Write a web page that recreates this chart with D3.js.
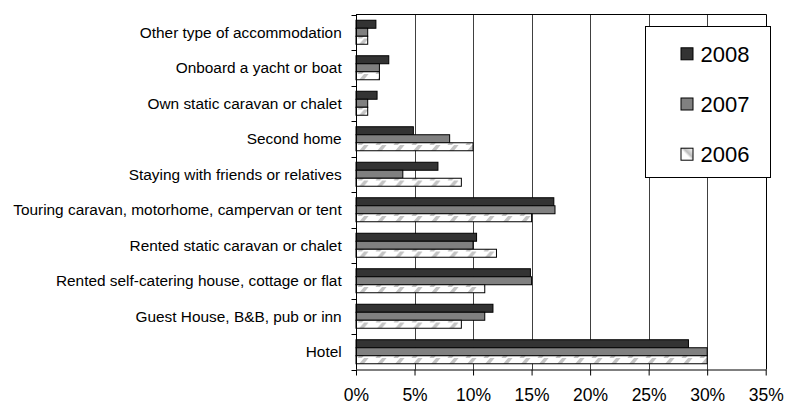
<!DOCTYPE html>
<html>
<head>
<meta charset="utf-8">
<script src="https://cdn.jsdelivr.net/npm/d3@7"></script>
<style>
  body { margin: 0; background: #fff; }
  svg { display: block; font-family: "Liberation Sans", Arial, sans-serif; }
</style>
</head>
<body>
<div id="chart"></div>
<script>
// categories top to bottom
const categories = [
  "Other type of accommodation",
  "Onboard a yacht or boat",
  "Own static caravan or chalet",
  "Second home",
  "Staying with friends or relatives",
  "Touring caravan, motorhome, campervan or tent",
  "Rented static caravan or chalet",
  "Rented self-catering house, cottage or flat",
  "Guest House, B&B, pub or inn",
  "Hotel",
];
const years = ["2008", "2007", "2006"];
const values2008 = [1.7, 2.8, 1.8, 4.9, 7.0, 16.9, 10.3, 14.9, 11.7, 28.4];
const values2007 = [1.0, 2.0, 1.0, 8.0, 4.0, 17.0, 10.0, 15.0, 11.0, 30.0];
const values2006 = [1.0, 2.0, 1.0, 10.0, 9.0, 15.0, 12.0, 11.0, 9.0, 30.0];
const xTicks = [0, 5, 10, 15, 20, 25, 30, 35];

const seriesByYear = { "2008": values2008, "2007": values2007, "2006": values2006 };
const fills = { "2008": "#333333", "2007": "#808080", "2006": "url(#hatch)" };

const W = 787, H = 405;
const plot = { left: 356, right: 765.7, top: 14.5, bottom: 369.5 };

const svg = d3.select("#chart").append("svg")
  .attr("width", W).attr("height", H);

const defs = svg.append("defs");

// diagonal hatch for 2006
const pat = defs.append("pattern")
  .attr("id", "hatch")
  .attr("patternUnits", "userSpaceOnUse")
  .attr("width", 18).attr("height", 8);
pat.append("rect").attr("width", 18).attr("height", 8).attr("fill", "#fff");
pat.append("path")
  .attr("d", "M-2,10 L8,-2 M16,10 L26,-2")
  .attr("stroke", "#c4c4c4")
  .attr("stroke-width", 3.5);

// legend swatch for 2006 is a soft diagonal band
const grad = defs.append("linearGradient")
  .attr("id", "legendGrad")
  .attr("x1", "0").attr("y1", "1").attr("x2", "1").attr("y2", "0");
grad.append("stop").attr("offset", "0").attr("stop-color", "#fff");
grad.append("stop").attr("offset", "0.45").attr("stop-color", "#fff");
grad.append("stop").attr("offset", "0.6").attr("stop-color", "#bdbdbd");
grad.append("stop").attr("offset", "1").attr("stop-color", "#fff");

const x = d3.scaleLinear().domain([0, 35]).range([plot.left, plot.right]);
const y = d3.scaleBand().domain(categories).range([plot.top, plot.bottom]).padding(0);
const yInner = d3.scaleBand().domain(years)
  .range([5.75, y.bandwidth() - 5.75]).padding(0);

// gridlines
svg.append("g")
  .selectAll("line")
  .data(xTicks.filter((d) => d > 0 && d < 35))
  .join("line")
  .attr("x1", (d) => Math.round(x(d)) + 0.5)
  .attr("x2", (d) => Math.round(x(d)) + 0.5)
  .attr("y1", plot.top).attr("y2", plot.bottom)
  .attr("stroke", "#404040")
  .attr("stroke-width", 1);

// plot border (top + right)
svg.append("path")
  .attr("d", `M${plot.left},${plot.top} H${Math.round(plot.right) + 0.5} V${plot.bottom}`)
  .attr("fill", "none")
  .attr("stroke", "#000");

// bars
const groups = svg.append("g")
  .selectAll("g")
  .data(categories)
  .join("g")
  .attr("transform", (d) => `translate(0,${y(d)})`);

groups.selectAll("rect")
  .data((c, i) => years.map((yr) => ({ year: yr, value: seriesByYear[yr][i] })))
  .join("rect")
  .attr("x", plot.left)
  .attr("y", (d) => yInner(d.year))
  .attr("width", (d) => x(d.value) - plot.left)
  .attr("height", yInner.bandwidth())
  .attr("fill", (d) => fills[d.year])
  .attr("stroke", "#000")
  .attr("stroke-width", 1);

// category labels
svg.append("g")
  .selectAll("text")
  .data(categories)
  .join("text")
  .attr("x", 341.7)
  .attr("y", (d) => y(d) + y.bandwidth() / 2)
  .attr("dy", "0.35em")
  .attr("text-anchor", "end")
  .attr("font-size", "15.4px")
  .attr("fill", "#000")
  .text((d) => d);

// y axis line with boundary ticks
const bounds = categories.map((c) => y(c)).concat([plot.bottom]);
svg.append("line")
  .attr("x1", plot.left + 0.5).attr("x2", plot.left + 0.5)
  .attr("y1", plot.top).attr("y2", plot.bottom)
  .attr("stroke", "#000");
svg.append("g")
  .selectAll("line")
  .data(bounds)
  .join("line")
  .attr("x1", plot.left - 4.5).attr("x2", plot.left)
  .attr("y1", (d) => Math.round(d) + 0.5)
  .attr("y2", (d) => Math.round(d) + 0.5)
  .attr("stroke", "#000");

// x axis
const xAxis = svg.append("g")
  .attr("transform", `translate(0,${plot.bottom})`)
  .call(d3.axisBottom(x).tickValues(xTicks).tickFormat((d) => d + "%")
    .tickSize(6).tickPadding(13).tickSizeOuter(0));
xAxis.select(".domain").attr("stroke", "#000");
xAxis.selectAll(".tick line").attr("stroke", "#000");
xAxis.selectAll("text")
  .attr("font-size", "17.5px")
  .attr("font-family", "Liberation Sans, Arial, sans-serif")
  .attr("fill", "#000");

// legend
const legend = svg.append("g");
legend.append("rect")
  .attr("x", 645.5).attr("y", 26.5)
  .attr("width", 125).attr("height", 151)
  .attr("fill", "#fff").attr("stroke", "#000");
const leg = legend.selectAll("g")
  .data(years)
  .join("g")
  .attr("transform", (d, i) => `translate(0,${53.8 + i * 50.2})`);
leg.append("rect")
  .attr("x", 681).attr("y", -6)
  .attr("width", 12).attr("height", 12)
  .attr("fill", (d) => (d === "2006" ? "url(#legendGrad)" : fills[d]))
  .attr("stroke", "#000");
leg.append("text")
  .attr("x", 700.5)
  .attr("dy", "0.36em")
  .attr("font-size", "22px")
  .attr("fill", "#000")
  .text((d) => d);
</script>
</body>
</html>
